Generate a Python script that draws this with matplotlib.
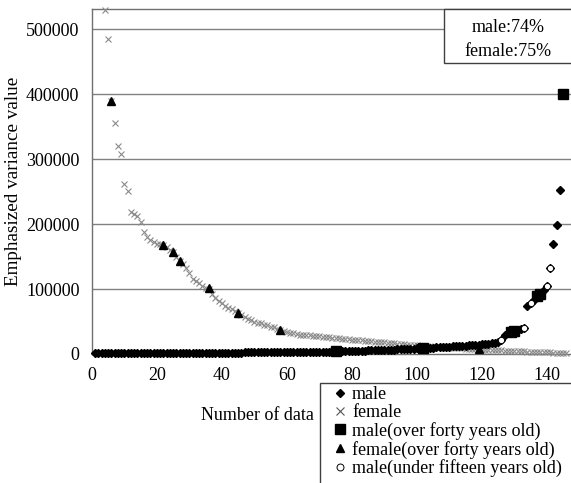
import matplotlib
matplotlib.use("agg")
import matplotlib.pyplot as plt
from matplotlib.lines import Line2D
from matplotlib.patches import Rectangle

plt.rcParams['font.family'] = ['Liberation Serif', 'DejaVu Serif']

# male: one value per data number, x = 1..145
male_y = [800, 800, 900, 900, 1000, 1000, 1000, 1100, 1100, 1100,
          1200, 1200, 1200, 1300, 1300, 1300, 1400, 1400, 1400, 1500,
          1500, 1500, 1600, 1600, 1600, 1700, 1700, 1700, 1800, 1800,
          1800, 1900, 1900, 1900, 2000, 2000, 2000, 2100, 2100, 2100,
          2200, 2200, 2200, 2300, 2300, 2300, 2400, 2400, 2400, 2500,
          2500, 2500, 2600, 2600, 2600, 2700, 2700, 2800, 2800, 2900,
          2900, 3000, 3000, 3100, 3100, 3200, 3300, 3300, 3400, 3500,
          3600, 3700, 3800, 3900, 4000, 4100, 4200, 4300, 4400, 4600,
          4700, 4900, 5000, 5200, 5400, 5500, 5700, 5900, 6100, 6300,
          6500, 6700, 6900, 7100, 7300, 7600, 7800, 8000, 8300, 8500,
          8800, 9100, 9400, 9700, 10000, 10300, 10600, 10900, 11200, 11500,
          11800, 12100, 12400, 12700, 13000, 13400, 13800, 14200, 14600, 15000,
          15500, 16000, 16600, 17200, 18000, 21500, 29000, 31800, 34300, 36000,
          36500, 38000, 39500, 73800, 78000, 83000, 89000, 93000, 98500, 104600,
          131800, 168700, 198400, 253000, 400000]
male_x = list(range(1, len(male_y) + 1))

# female: x = 4..146
female_y = [530000, 485000, 390000, 355000, 320000, 308000, 262000, 251000, 219000, 216000,
            212000, 203000, 188000, 180000, 176000, 172000, 170000, 169000, 167000, 165000,
            160000, 157000, 150000, 143000, 138000, 133000, 125000, 116000, 112000, 109000,
            105000, 102000, 100000, 92000, 86000, 82000, 78000, 74000, 71000, 69000,
            66000, 63000, 60000, 57000, 54000, 52000, 50000, 48000, 47000, 45000,
            44000, 42000, 41000, 39000, 37000, 35000, 34000, 33000, 32000, 31000,
            30000, 29500, 29000, 28500, 28000, 27500, 27000, 26500, 26000, 25500,
            25000, 24500, 24000, 23500, 23000, 22600, 22200, 21800, 21400, 21000,
            20600, 20200, 19700, 19200, 18700, 18200, 17800, 17400, 17000, 16500,
            16000, 15500, 15000, 14500, 14000, 13600, 13200, 12800, 12400, 12000,
            11700, 11400, 11100, 10800, 10500, 10200, 9900, 9600, 9300, 9000,
            8700, 8400, 8100, 7800, 7500, 7200, 6900, 6600, 6300, 6000,
            5800, 5600, 5400, 5200, 5000, 4800, 4600, 4400, 4200, 4000,
            3800, 3600, 3400, 3200, 3000, 2800, 2600, 2400, 2200, 2000,
            1800, 1700, 1500]
female_x = list(range(4, 4 + len(female_y)))

# male over forty years old
m40_x = [75, 102, 129, 130, 137, 138, 145]
m40_y = [4000, 9100, 34300, 36000, 89000, 93000, 400000]

# female over forty years old
f40_x = [6, 22, 25, 27, 36, 45, 58, 119]
f40_y = [390000, 167600, 157000, 143000, 101000, 63500, 37000, 7500]

# male under fifteen years old
m15_x = [126, 133, 135, 140, 141]
m15_y = [21500, 39500, 78000, 104600, 131800]

x_ticks = [0, 20, 40, 60, 80, 100, 120, 140]
y_ticks = [0, 100000, 200000, 300000, 400000, 500000]

fig = plt.figure(figsize=(5.71, 4.83), dpi=100)
ax = fig.add_axes([92/571, 1 - 354/483, 479/571, 345/483])

for y in y_ticks[1:]:
    ax.axhline(y, color='#808080', lw=1, zorder=1)

ax.plot(female_x, female_y, 'x', color='#8a8a8a', ms=5, mew=0.8, clip_on=False, zorder=3)
ax.plot(male_x, male_y, 'D', color='black', ms=3.6, clip_on=False, zorder=4)
ax.plot(m40_x, m40_y, 's', color='black', ms=6.5, clip_on=False, zorder=5)
ax.plot(f40_x, f40_y, '^', color='black', ms=5.5, clip_on=False, zorder=5)
ax.plot(m15_x, m15_y, 'o', mfc='white', mec='black', ms=4.5, mew=0.7, clip_on=False, zorder=6)

ax.set_xlim(0, 147.4)
ax.set_ylim(0, 531000)
ax.set_xticks(x_ticks)
ax.set_yticks(y_ticks)
ax.set_xticklabels([str(t) for t in x_ticks], fontsize=13)
ax.set_yticklabels([str(t) for t in y_ticks], fontsize=13)
ax.tick_params(length=0, pad=9)
ax.spines['right'].set_visible(False)
for s in ['left', 'top', 'bottom']:
    ax.spines[s].set_color('#707070')
    ax.spines[s].set_linewidth(1)

ax.set_ylabel('Emphasized variance value', fontsize=13.8, labelpad=3)
fig.text(257/571, 1 - 415/483, 'Number of data', fontsize=13, ha='center', va='center')

# accuracy box
fig.patches.append(Rectangle((444/571, 1 - 63/483), 140/571, 54/483, transform=fig.transFigure,
                             facecolor='white', edgecolor='#404040', lw=1, zorder=10))
fig.text(508/571, 1 - 27/483, 'male:74%', fontsize=13, ha='center', va='center', zorder=11)
fig.text(508/571, 1 - 52/483, 'female:75%', fontsize=13, ha='center', va='center', zorder=11)

# legend
fig.patches.append(Rectangle((320/571, -0.05), 260/571, (483 - 383)/483 + 0.05, transform=fig.transFigure,
                             facecolor='white', edgecolor='#404040', lw=1, zorder=10))
handles = [
    Line2D([], [], ls='', marker='D', color='black', ms=4.5),
    Line2D([], [], ls='', marker='x', color='#555555', ms=6, mew=0.8),
    Line2D([], [], ls='', marker='s', color='black', ms=7),
    Line2D([], [], ls='', marker='^', color='black', ms=6),
    Line2D([], [], ls='', marker='o', mfc='white', mec='black', ms=5, mew=0.7),
]
labels = ['male', 'female', 'male(over forty years old)',
          'female(over forty years old)', 'male(under fifteen years old)']
leg = fig.legend(handles, labels, loc='upper left', bbox_to_anchor=(333/571, 1 - 386/483),
                 frameon=False, fontsize=13, handlelength=0.8, handletextpad=0.25,
                 labelspacing=0.05, borderpad=0, borderaxespad=0)
leg.set_zorder(12)

fig.savefig('out.png', dpi=100)
